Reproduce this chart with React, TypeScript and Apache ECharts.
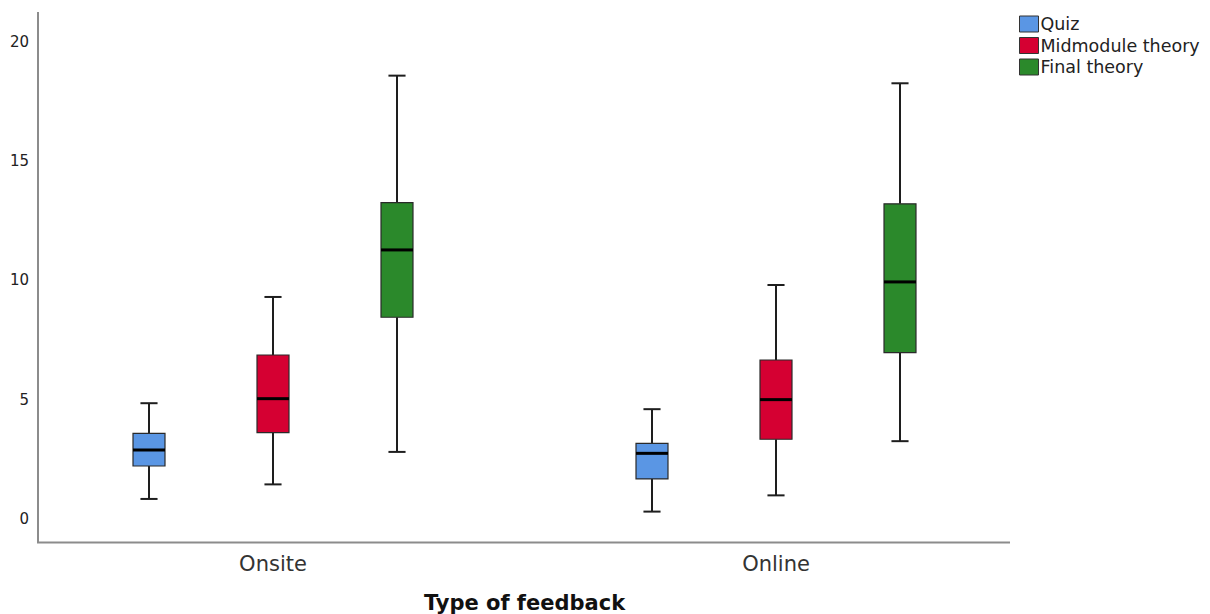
import React, { useEffect, useRef } from 'react';
import * as echarts from 'echarts';

const categories = ['Onsite', 'Online'];
const seriesNames = ['Quiz', 'Midmodule theory', 'Final theory'];
// [min, Q1, median, Q3, max] per category
const quizStats = [
  [0.84, 2.22, 2.89, 3.59, 4.85],
  [0.31, 1.68, 2.75, 3.17, 4.6],
];
const midStats = [
  [1.45, 3.62, 5.04, 6.87, 9.3],
  [0.99, 3.34, 5.0, 6.66, 9.8],
];
const finalStats = [
  [2.81, 8.45, 11.27, 13.25, 18.57],
  [3.26, 6.97, 9.93, 13.2, 18.25],
];
const yMin = 0;
const yMax = 20;
const yInterval = 5;

const allStats = [quizStats, midStats, finalStats];
const colors = ['#5a96e4', '#d50032', '#2b892b'];
const offsets = [-0.2465, 0, 0.2465];
const FONT = 'DejaVu Sans, Arial, sans-serif';

function makeRender(idx: number) {
  return (params: any, api: any) => {
    const x = api.value(0);
    const lo = api.coord([x, api.value(1)]);
    const q1 = api.coord([x, api.value(2)]);
    const md = api.coord([x, api.value(3)]);
    const q3 = api.coord([x, api.value(4)]);
    const hi = api.coord([x, api.value(5)]);
    const band = api.size([1, 0])[0];
    const cx = Math.round(lo[0] + band * offsets[idx]);
    const bw = band * 0.0636;
    const cap = band * 0.034;
    const wStyle = { stroke: '#1e1e1e', lineWidth: 2 };
    return {
      type: 'group',
      children: [
        { type: 'line', shape: { x1: cx, y1: hi[1], x2: cx, y2: q3[1] }, style: wStyle },
        { type: 'line', shape: { x1: cx, y1: q1[1], x2: cx, y2: lo[1] }, style: wStyle },
        { type: 'line', shape: { x1: cx - cap / 2, y1: hi[1], x2: cx + cap / 2, y2: hi[1] }, style: wStyle },
        { type: 'line', shape: { x1: cx - cap / 2, y1: lo[1], x2: cx + cap / 2, y2: lo[1] }, style: wStyle },
        {
          type: 'rect',
          shape: { x: cx - bw / 2, y: q3[1], width: bw, height: q1[1] - q3[1] },
          style: { fill: colors[idx], stroke: '#2a2a2a', lineWidth: 1.2 },
        },
        {
          type: 'line',
          shape: { x1: cx - bw / 2, y1: md[1], x2: cx + bw / 2, y2: md[1] },
          style: { stroke: '#000', lineWidth: 3 },
        },
      ],
    };
  };
}

export default function App() {
  const ref = useRef<HTMLDivElement>(null);
  useEffect(() => {
    if (!ref.current) return;
    const chart = echarts.init(ref.current, null, { renderer: 'svg' });
    const series = seriesNames.map((name, i) => ({
      name,
      type: 'custom',
      renderItem: makeRender(i),
      itemStyle: { color: colors[i] },
      encode: { x: 0, y: [1, 2, 3, 4, 5] },
      data: allStats[i].map((s, ci) => [ci, ...s]),
    }));
    chart.setOption({
      animation: false,
      backgroundColor: '#ffffff',
      grid: { left: 21.5, width: 1006, top: 41.5, bottom: 95, outerBoundsMode: 'none', containLabel: false },
      legend: {
        orient: 'vertical',
        left: 1014,
        top: 10,
        icon: 'rect',
        itemWidth: 19,
        itemHeight: 16,
        itemGap: 3.5,
        selectedMode: false,
        itemStyle: { borderColor: '#333', borderWidth: 1 },
        textStyle: { fontFamily: FONT, fontSize: 17.5, lineHeight: 16, color: '#222', padding: [0, 0, 0, -3] },
        data: seriesNames,
      },
      xAxis: {
        type: 'category',
        data: categories,
        axisLine: { show: false },
        axisTick: { show: false },
        axisLabel: { margin: 34, fontSize: 21, color: '#333', fontFamily: FONT },
        name: 'Type of feedback',
        nameLocation: 'middle',
        nameGap: 73,
        nameTextStyle: { fontSize: 21, fontWeight: 'bold', color: '#111', fontFamily: FONT },
      },
      yAxis: {
        type: 'value',
        min: yMin,
        max: yMax,
        interval: yInterval,
        offset: -16.5,
        axisLine: { show: false },
        axisTick: { show: false },
        splitLine: { show: false },
        axisLabel: { margin: 9, fontSize: 15, color: '#222', fontFamily: FONT },
      },
      graphic: [
        { type: 'line', shape: { x1: 38, y1: 12, x2: 38, y2: 543 }, style: { stroke: '#8c8c8c', lineWidth: 2 } },
        { type: 'line', shape: { x1: 37, y1: 542.5, x2: 1010, y2: 542.5 }, style: { stroke: '#8c8c8c', lineWidth: 2 } },
      ],
      series,
    });
    return () => chart.dispose();
  }, []);
  return (
    <div
      ref={ref}
      style={{ position: 'absolute', left: 0, top: 0, width: 1210, height: 614, background: '#fff' }}
    />
  );
}
